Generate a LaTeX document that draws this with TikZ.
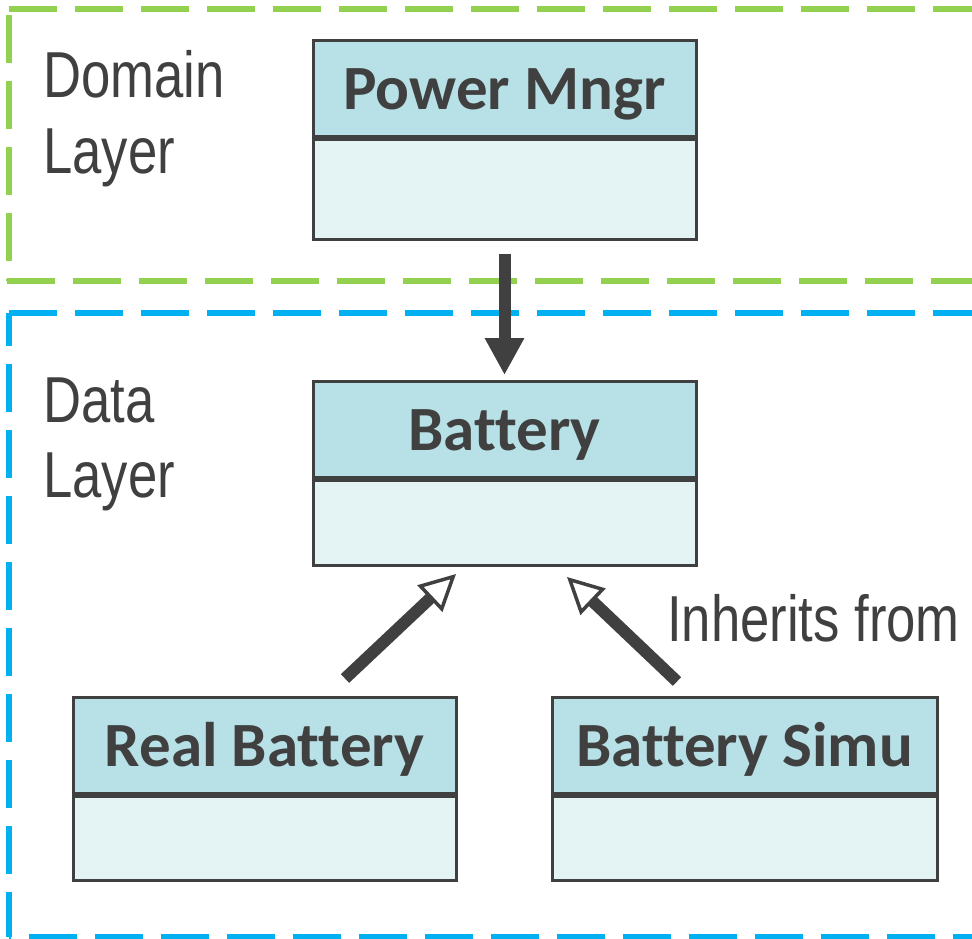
\documentclass[tikz,border=0pt]{standalone}
\usepackage{fontspec}
\usetikzlibrary{arrows.meta,calc}
\newfontfamily\labelfont{Liberation Sans}[FakeStretch=0.81]
\newfontfamily\titlefont{Carlito}[Ligatures=NoCommon]
\definecolor{ink}{HTML}{404040}
\definecolor{hdrfill}{HTML}{B7E1E6}
\definecolor{bodyfill}{HTML}{E4F3F4}
\definecolor{domaingreen}{HTML}{92D050}
\definecolor{datablue}{HTML}{00B0F0}

\begin{document}
\begin{tikzpicture}[x=1pt,y=-1pt,
  layerline/.style={line width=5.5pt, dash pattern=on 48pt off 18pt},
  classhead/.style={draw=ink, line width=3pt, fill=hdrfill, minimum width=383pt,
    minimum height=96pt, inner sep=0pt, text=ink,
    font=\titlefont\bfseries\fontsize{63}{63}\selectfont,
    text height=42pt, text depth=0pt},
  classbody/.style={draw=ink, line width=3pt, fill=bodyfill, minimum width=383pt,
    inner sep=0pt, anchor=north},
  layerlabel/.style={anchor=base west, inner sep=0pt, text=ink,
    font=\labelfont\fontsize{65}{75}\selectfont},
  uses/.style={draw=ink, line width=12pt, -{Triangle[width=37pt,length=37pt]}},
  inherits/.style={draw=ink, line width=12pt,
    -{Triangle[open, width=36pt, length=36pt, line width=3.5pt]}},
]
\useasboundingbox (0,0) rectangle (972,939);
\clip (0,0) rectangle (972,939);

% layer frames
\draw[layerline, domaingreen] (9,9) -- (990,9);
\draw[layerline, domaingreen, dash phase=60pt] (9,9) -- (9,281);
\draw[layerline, domaingreen] (7,281) -- (990,281);
\draw[layerline, datablue] (9,313) -- (990,313);
\draw[layerline, datablue, dash phase=3pt] (9,936.5) -- (9,313);
\draw[layerline, datablue, dash phase=46pt] (9,936.5) -- (990,936.5);

% layer labels
\node[layerlabel] (domain1) at (43,98) {Domain};
\node[layerlabel] (domain2) at (43,173) {Layer};
\node[layerlabel] (data1) at (43,422) {Data};
\node[layerlabel] (data2) at (43,497) {Layer};

% classes
\node[classhead] (pm) at (504.5,89) {Power Mngr};
\node[classbody, minimum height=99pt] (pmb) at (pm.south) {};
\node[classhead] (bat) at (504.5,429.5) {Battery};
\node[classbody, minimum height=85pt] (batb) at (bat.south) {};
\node[classhead] (rb) at (264.5,745) {Real Battery};
\node[classbody, minimum height=84pt] (rbb) at (rb.south) {};
\node[classhead, minimum width=385pt] (bs) at (744.5,745) {Battery Simu};
\node[classbody, minimum width=385pt, minimum height=84pt] (bsb) at (bs.south) {};

% connectors
\draw[uses, shorten >=5pt] ([yshift=-13pt]pmb.south) -- (bat.north);
\draw[inherits] ([xshift=80.5pt,yshift=17pt]rb.north) -- ([xshift=-48.5pt,yshift=-7pt]batb.south);
\draw[inherits] ([xshift=-67.5pt,yshift=14pt]bs.north) -- ([xshift=62.5pt,yshift=-10pt]batb.south);

\node[layerlabel] (inh) at (667,641) {Inherits from};
\end{tikzpicture}
\end{document}
